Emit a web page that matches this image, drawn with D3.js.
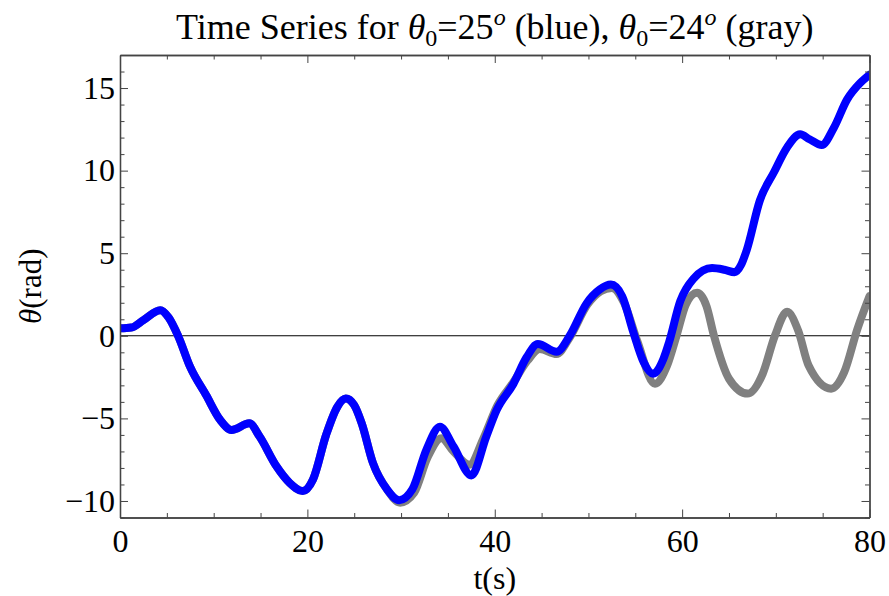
<!DOCTYPE html>
<html>
<head>
<meta charset="utf-8">
<script src="https://cdn.jsdelivr.net/npm/d3@7"></script>
<style>
  html, body { margin: 0; padding: 0; background: #fff; }
  svg { display: block; }
  text { font-family: "Liberation Serif", "DejaVu Serif", serif; fill: #000; }
</style>
</head>
<body>
<svg id="chart" width="889" height="596"></svg>
<script>
// Pendulum angle over time for two nearby starting angles
const blueT = [0, 1.2, 2.5, 4.3, 5.2, 6.2, 7.5, 9.2, 10.7, 11.9, 13.8, 14.9, 16.7, 18.1, 19.5, 20.6, 22.0, 23.2, 24.1, 25.0, 25.8, 27.0, 28.5, 29.8, 31.2, 32.7, 34.15, 35.6, 37.5, 39.1, 40.2, 42.0, 43.4, 44.6, 46.6, 48.0, 49.8, 51.2, 52.4, 53.6, 54.8, 55.9, 56.9, 58.0, 58.6, 59.8, 61.2, 63.2, 64.5, 65.6, 66.3, 66.9, 68.3, 69.8, 71.2, 72.6, 73.6, 74.9, 76.2, 77.6, 79.0, 80];
const blueTheta = [0.45, 0.5, 0.95, 1.55, 1.1, 0, -1.9, -3.6, -5.1, -5.7, -5.3, -6.1, -7.9, -8.9, -9.4, -8.7, -6.0, -4.3, -3.8, -4.2, -5.3, -7.7, -9.3, -9.95, -9.3, -6.9, -5.5, -6.7, -8.45, -6.1, -4.5, -2.9, -1.3, -0.5, -0.97, 0, 1.96, 2.8, 3.1, 2.4, 0.2, -1.6, -2.3, -1.4, -0.4, 2.1, 3.45, 4.1, 4.0, 3.85, 4.3, 5.2, 8.2, 9.9, 11.4, 12.2, 11.9, 11.55, 12.6, 14.3, 15.3, 15.8];

const grayT = [0, 1.2, 2.5, 4.3, 5.2, 6.2, 7.5, 9.2, 10.7, 11.9, 13.8, 14.9, 16.7, 18.1, 19.5, 20.6, 22.0, 23.2, 24.1, 25.0, 25.8, 27.0, 28.5, 29.9, 31.4, 32.8, 34.3, 35.6, 37.3, 38.8, 40.3, 42.0, 43.5, 44.8, 46.6, 48.0, 49.9, 51.3, 52.5, 53.8, 55.2, 57.1, 58.4, 59.4, 60.4, 61.6, 62.6, 63.4, 65.0, 67.0, 68.6, 69.9, 71.2, 72.4, 73.5, 75.9, 77.3, 78.7, 80];
const grayTheta = [0.45, 0.5, 0.95, 1.55, 1.1, 0, -1.9, -3.6, -5.1, -5.7, -5.3, -6.1, -7.9, -8.9, -9.4, -8.7, -6.0, -4.3, -3.8, -4.2, -5.3, -7.7, -9.3, -10.1, -9.5, -7.4, -6.2, -7.0, -7.8, -6.2, -4.2, -2.8, -1.5, -0.8, -1.1, -0.1, 1.9, 2.7, 2.9, 2.0, -0.3, -2.9, -1.8, 0, 1.9, 2.6, 1.8, 0, -2.6, -3.5, -2.3, 0, 1.45, 0.3, -1.8, -3.2, -2.2, 0.4, 2.4];

const xMajor = [0, 20, 40, 60, 80];
const xMinor = [5, 10, 15, 25, 30, 35, 45, 50, 55, 65, 70, 75];
const yMajor = [-10, -5, 0, 5, 10, 15];
const yMinor = d3.range(-11, 18).filter(v => v % 5 !== 0);

const svg = d3.select("#chart");
const plotLeft = 120, plotRight = 869.5, plotTop = 55, plotBottom = 517.5;

const x = d3.scaleLinear().domain([0, 80]).range([plotLeft, plotRight]);
const y = d3.scaleLinear().domain([-11, 17]).range([plotBottom, plotTop]);

const fmt = d => (d < 0 ? "\u2212" + Math.abs(d) : String(d));
const frameColor = "#444";

// zero reference line
svg.append("line")
  .attr("x1", plotLeft).attr("x2", plotRight)
  .attr("y1", y(0)).attr("y2", y(0))
  .attr("stroke", "#000").attr("stroke-width", 1.1);

// curves: gray drawn first, blue on top
const line = d3.line()
  .x(d => x(d[0]))
  .y(d => y(d[1]))
  .curve(d3.curveMonotoneX);

svg.append("clipPath").attr("id", "plotclip")
  .append("rect").attr("x", plotLeft).attr("y", plotTop)
  .attr("width", plotRight - plotLeft).attr("height", plotBottom - plotTop);

const plot = svg.append("g").attr("clip-path", "url(#plotclip)");

plot.append("path")
  .datum(d3.zip(grayT, grayTheta))
  .attr("d", line)
  .attr("fill", "none")
  .attr("stroke", "#808080")
  .attr("stroke-width", 8)
  .attr("stroke-linejoin", "round")
  .attr("stroke-linecap", "round");

plot.append("path")
  .datum(d3.zip(blueT, blueTheta))
  .attr("d", line)
  .attr("fill", "none")
  .attr("stroke", "#0000ff")
  .attr("stroke-width", 8)
  .attr("stroke-linejoin", "round")
  .attr("stroke-linecap", "round");

// frame axes with inward ticks on all four sides
function styleAxis(g) {
  g.select(".domain").attr("stroke", frameColor).attr("stroke-width", 1.3);
  g.selectAll(".tick line").attr("stroke", frameColor).attr("stroke-width", 1);
  g.selectAll("text").attr("font-family", "Liberation Serif, serif").attr("font-size", 32).attr("fill", "#000");
}

svg.append("g").attr("transform", `translate(0,${plotBottom})`)
  .call(d3.axisBottom(x).tickValues(xMajor).tickSize(-8).tickPadding(12).tickFormat(fmt).tickSizeOuter(0))
  .call(styleAxis);
svg.append("g").attr("transform", `translate(0,${plotBottom})`)
  .call(d3.axisBottom(x).tickValues(xMinor).tickSize(-4.5).tickFormat("").tickSizeOuter(0))
  .call(styleAxis);

svg.append("g").attr("transform", `translate(0,${plotTop})`)
  .call(d3.axisTop(x).tickValues(xMajor).tickSize(-8).tickFormat("").tickSizeOuter(0))
  .call(styleAxis);
svg.append("g").attr("transform", `translate(0,${plotTop})`)
  .call(d3.axisTop(x).tickValues(xMinor).tickSize(-4.5).tickFormat("").tickSizeOuter(0))
  .call(styleAxis);

svg.append("g").attr("transform", `translate(${plotLeft},0)`)
  .call(d3.axisLeft(y).tickValues(yMajor).tickSize(-8).tickPadding(5).tickFormat(fmt).tickSizeOuter(0))
  .call(styleAxis);
svg.append("g").attr("transform", `translate(${plotLeft},0)`)
  .call(d3.axisLeft(y).tickValues(yMinor).tickSize(-4.5).tickFormat("").tickSizeOuter(0))
  .call(styleAxis);

svg.append("g").attr("transform", `translate(${plotRight},0)`)
  .call(d3.axisRight(y).tickValues(yMajor).tickSize(-8).tickFormat("").tickSizeOuter(0))
  .call(styleAxis);
svg.append("g").attr("transform", `translate(${plotRight},0)`)
  .call(d3.axisRight(y).tickValues(yMinor).tickSize(-4.5).tickFormat("").tickSizeOuter(0))
  .call(styleAxis);

// title
const title = svg.append("text")
  .attr("x", (plotLeft + plotRight) / 2).attr("y", 39)
  .attr("text-anchor", "middle")
  .attr("font-size", 36);
title.append("tspan").text("Time Series for ");
title.append("tspan").attr("font-style", "italic").text("\u03b8");
title.append("tspan").attr("font-size", 24).attr("dy", 7).text("0");
title.append("tspan").attr("dy", -7).text("=25");
title.append("tspan").attr("font-size", 24).attr("font-style", "italic").attr("dy", -14).text("o");
title.append("tspan").attr("dy", 14).text(" (blue), ");
title.append("tspan").attr("font-style", "italic").text("\u03b8");
title.append("tspan").attr("font-size", 24).attr("dy", 7).text("0");
title.append("tspan").attr("dy", -7).text("=24");
title.append("tspan").attr("font-size", 24).attr("font-style", "italic").attr("dy", -14).text("o");
title.append("tspan").attr("dy", 14).text(" (gray)");

// axis labels
svg.append("text")
  .attr("x", (plotLeft + plotRight) / 2).attr("y", 589)
  .attr("text-anchor", "middle")
  .attr("font-size", 32)
  .text("t(s)");

const yLabel = svg.append("text")
  .attr("transform", `translate(41,${(plotTop + plotBottom) / 2}) rotate(-90)`)
  .attr("text-anchor", "middle")
  .attr("font-size", 31);
yLabel.append("tspan").attr("font-style", "italic").text("\u03b8");
yLabel.append("tspan").text("(rad)");
</script>
</body>
</html>
